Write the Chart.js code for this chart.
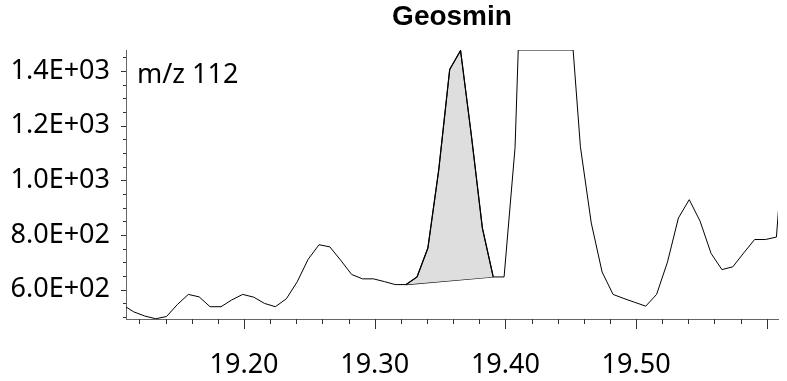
<!DOCTYPE html>
<html><head><meta charset="utf-8">
<script src="https://cdn.jsdelivr.net/npm/chart.js@4.4.1/dist/chart.umd.min.js"></script>
<style>html,body{margin:0;padding:0;background:#fff;}#wrap{width:787px;height:381px;}</style>
</head><body>
<div id="wrap"><canvas id="c" width="787" height="381"></canvas></div>
<script>
// ---- data ----
const chartTitle = 'Geosmin';
const ionLabel = 'm/z 112';
const times = [19.1074,19.1157,19.1240,19.1324,19.1407,19.1490,19.1574,19.1657,19.1740,19.1824,
  19.1907,19.1990,19.2074,19.2157,19.2240,19.2324,19.2407,19.2490,19.2574,19.2657,
  19.2740,19.2824,19.2907,19.2990,19.3074,19.3157,19.3240,19.3324,19.3407,19.3490,
  19.3574,19.3657,19.3740,19.3824,19.3907,19.3990,19.4074,19.4157,19.4240,19.4324,
  19.4407,19.4490,19.4574,19.4657,19.4740,19.4824,19.4907,19.4990,19.5074,19.5157,
  19.5240,19.5324,19.5407,19.5490,19.5574,19.5657,19.5740,19.5824,19.5907,19.5990,
  19.6074,19.6157];
const intensity = [543,518,503,493,501,545,582,573,537,537,
  562,582,572,549,537,566,628,710,764,756,
  707,655,639,639,629,618,618,646,752,1038,
  1406,1475,1163,825,646,646,1120,2335,3200,3500,
  3000,1658,1123,844,664,582,567,553,539,582,
  700,862,929,850,732,673,683,734,783,783,
  792,1323];
const peakStartIndex = 26;
const peakEndIndex = 34;
const xMajorTicks = [19.20,19.30,19.40,19.50,19.60];
const xTickLabels = ['19.20','19.30','19.40','19.50',''];
const xMinorTicks = [19.12,19.14,19.16,19.18,19.20,19.22,19.24,19.26,19.28,19.30,19.32,19.34,19.36,19.38,19.40,
  19.42,19.44,19.46,19.48,19.50,19.52,19.54,19.56,19.58,19.60];
const yMajorTicks = [600,800,1000,1200,1400];
const yTickLabels = ['6.0E+02','8.0E+02','1.0E+03','1.2E+03','1.4E+03'];
const yMinorTicks = [500,550,600,650,700,750,800,850,900,950,1000,1050,1100,1150,1200,1250,1300,1350,1400,1450];
const xMin = 19.1097, xMax = 19.6086, yMin = 492, yMax = 1477;

// values above the display range are drawn saturated at the top edge
function saturate(ts, vs, top){
  const out = [];
  for (let i = 0; i < ts.length; i++){
    out.push({x: ts[i], y: Math.min(vs[i], top)});
    if (i < ts.length - 1){
      const a = vs[i] - top, b = vs[i+1] - top;
      if (a * b < 0){
        const f = (top - vs[i]) / (vs[i+1] - vs[i]);
        out.push({x: ts[i] + f * (ts[i+1] - ts[i]), y: top});
      }
    }
  }
  return out;
}
const mainPts = saturate(times, intensity, yMax);
const peakPts = [];
for (let i = peakStartIndex; i <= peakEndIndex; i++) peakPts.push({x: times[i], y: intensity[i]});
const basePts = [{x: times[peakStartIndex], y: intensity[peakStartIndex]}, {x: times[peakEndIndex], y: intensity[peakEndIndex]}];

const near = (a, b) => Math.abs(a - b) < 1e-6;

const extras = {
  id: 'extras',
  afterDraw(chart){
    const {ctx, scales: {x, y}, chartArea: a} = chart;
    ctx.save();
    ctx.strokeStyle = '#333';
    ctx.lineWidth = 1;
    ctx.beginPath();
    xMinorTicks.forEach(v => {
      const p = Math.round(x.getPixelForValue(v)) + 0.5;
      const major = xMajorTicks.some(m => near(m, v));
      ctx.moveTo(p, a.bottom);
      ctx.lineTo(p, a.bottom + (major ? 10 : 5));
    });
    yMinorTicks.forEach(v => {
      const p = Math.round(y.getPixelForValue(v)) + 0.5;
      const major = yMajorTicks.includes(v);
      ctx.moveTo(a.left, p);
      ctx.lineTo(a.left - (major ? 5 : 3), p);
    });
    ctx.stroke();
    ctx.fillStyle = '#000';
    ctx.font = '27px "Noto Sans"';
    ctx.textBaseline = 'alphabetic';
    ctx.textAlign = 'left';
    ctx.fillText(ionLabel, a.left + 11, a.top + 33);
    ctx.restore();
  }
};

new Chart(document.getElementById('c'), {
  type: 'line',
  data: {
    datasets: [
      {data: mainPts, borderColor: '#000', borderWidth: 1, pointRadius: 0, fill: false, tension: 0},
      {data: peakPts, borderColor: '#000', borderWidth: 1.2, pointRadius: 0, fill: '+1', backgroundColor: '#dedede', tension: 0},
      {data: basePts, borderColor: '#111', borderWidth: 1.2, pointRadius: 0, fill: false, tension: 0}
    ]
  },
  options: {
    responsive: false,
    animation: false,
    devicePixelRatio: 1,
    layout: {padding: {left: 0, right: 9, top: 0, bottom: 0}},
    plugins: {
      legend: {display: false},
      tooltip: {enabled: false},
      title: {display: true, text: chartTitle, fullSize: false, color: '#000',
        font: {family: '"Liberation Sans", Arial, sans-serif', size: 28, weight: 'bold'},
        padding: {top: 0, bottom: 16.4}}
    },
    scales: {
      x: {
        type: 'linear', min: xMin, max: xMax,
        afterBuildTicks: s => { s.ticks = xMinorTicks.map(v => ({value: v})); },
        afterFit: s => { s.height = 62; s.paddingLeft = 0; s.paddingRight = 0; },
        grid: {display: false, drawTicks: false},
        border: {display: true, color: '#666', width: 1},
        ticks: {autoSkip: false, maxRotation: 0, minRotation: 0, color: '#000', padding: 30,
          font: {family: '"Noto Sans"', size: 27},
          callback: v => { const i = xMajorTicks.findIndex(m => near(m, v)); return i >= 0 ? xTickLabels[i] : ''; }}
      },
      y: {
        type: 'linear', min: yMin, max: yMax,
        afterBuildTicks: s => { s.ticks = yMinorTicks.map(v => ({value: v})); },
        afterFit: s => { s.width = 126; s.paddingTop = 0; s.paddingBottom = 0; },
        grid: {display: false, drawTicks: false},
        border: {display: true, color: '#666', width: 1},
        ticks: {autoSkip: false, color: '#000', padding: 16,
          font: {family: '"Noto Sans"', size: 27},
          callback: v => { const i = yMajorTicks.indexOf(v); return i >= 0 ? yTickLabels[i] : ''; }}
      }
    }
  },
  plugins: [extras]
});
</script>
</body></html>
